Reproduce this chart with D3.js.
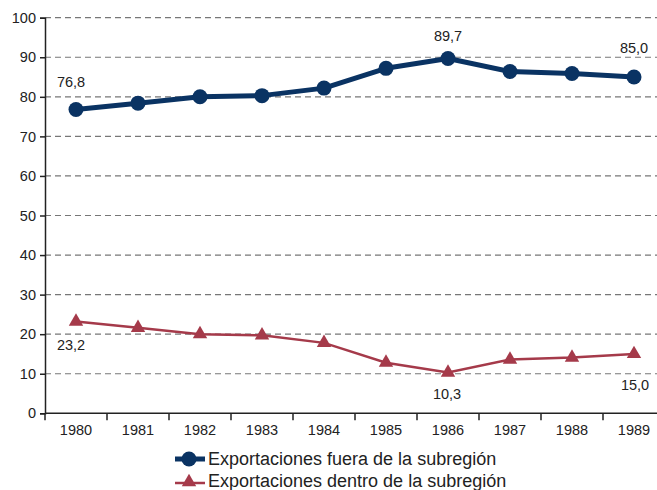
<!DOCTYPE html>
<html><head><meta charset="utf-8">
<script src="https://cdn.jsdelivr.net/npm/d3@7"></script>
<style>body{margin:0;background:#fff}svg{display:block}text{font-family:"Liberation Sans",Arial,sans-serif;fill:#222}</style>
</head><body><svg id="c" width="657" height="490"></svg>
<script>
const years = ["1980","1981","1982","1983","1984","1985","1986","1987","1988","1989"];
const fuera = [76.8,78.4,80.0,80.3,82.2,87.2,89.7,86.4,85.9,85.0];
const dentro = [23.2,21.6,20.0,19.7,17.8,12.8,10.3,13.6,14.1,15.0];
const yTicks = [0,10,20,30,40,50,60,70,80,90,100];
const seriesNames = ["Exportaciones fuera de la subregión","Exportaciones dentro de la subregión"];
const fueraLabels = {"1980":"76,8","1986":"89,7","1989":"85,0"};
const dentroLabels = {"1980":"23,2","1986":"10,3","1989":"15,0"};

const blue = "#0a3363", red = "#a53a4a";
const svg = d3.select("#c");
const x = d3.scaleBand().domain(years).range([45,665]);
const y = d3.scaleLinear().domain([0,100]).range([413.3,17.7]);
const cx = d => x(d) + x.bandwidth()/2;

// gridlines
svg.append("g").selectAll("line").data(yTicks.filter(t=>t>0)).join("line")
  .attr("x1",45).attr("x2",657).attr("y1",d=>y(d)).attr("y2",d=>y(d))
  .attr("stroke","#777").attr("stroke-width",1.2).attr("stroke-dasharray","6,4");

// y axis
const ya = svg.append("g").attr("transform","translate(45,0)")
  .call(d3.axisLeft(y).tickValues(yTicks).tickSize(5).tickPadding(4).tickFormat(d3.format("d")));
ya.select(".domain").attr("stroke","#222").attr("stroke-width",1.5);
ya.selectAll(".tick line").attr("stroke","#222").attr("stroke-width",1.5);
ya.selectAll("text").style("font-size","14.5px").attr("fill","#222");

// x axis
svg.append("line").attr("x1",45).attr("x2",657).attr("y1",y(0)).attr("y2",y(0)).attr("stroke","#222").attr("stroke-width",1.5);
svg.append("g").selectAll("line").data(years).join("line")
  .attr("x1",d=>x(d)).attr("x2",d=>x(d)).attr("y1",y(0)).attr("y2",y(0)+7)
  .attr("stroke","#222").attr("stroke-width",1.5);
svg.append("g").selectAll("text").data(years).join("text")
  .attr("x",cx).attr("y",y(0)+22).attr("text-anchor","middle").style("font-size","14.5px").text(d=>d);

// blue line
const line = vals => d3.line().x((d,i)=>cx(years[i])).y(d=>y(d))(vals);
svg.append("path").attr("d",line(fuera)).attr("fill","none").attr("stroke",blue).attr("stroke-width",5).attr("stroke-linejoin","round");
svg.append("g").selectAll("circle").data(fuera).join("circle")
  .attr("cx",(d,i)=>cx(years[i])).attr("cy",d=>y(d)).attr("r",7.5).attr("fill",blue);

// red line
svg.append("path").attr("d",line(dentro)).attr("fill","none").attr("stroke",red).attr("stroke-width",2.5);
const tri = d3.symbol().type(d3.symbolTriangle).size(90);
svg.append("g").selectAll("path").data(dentro).join("path")
  .attr("transform",(d,i)=>`translate(${cx(years[i])},${y(d)})`).attr("d",tri).attr("fill",red);

// data labels
const upOff = {"1980":[-5,22.5],"1986":[0,17],"1989":[0,24]};
const dnOff = {"1980":[-5,28],"1986":[-1,26],"1989":[1,36]};
svg.append("g").selectAll("text").data(years.filter(d=>fueraLabels[d])).join("text")
  .attr("x",d=>cx(d)+upOff[d][0]).attr("y",d=>y(fuera[years.indexOf(d)])-upOff[d][1])
  .attr("text-anchor","middle").style("font-size","14.5px").text(d=>fueraLabels[d]);
svg.append("g").selectAll("text").data(years.filter(d=>dentroLabels[d])).join("text")
  .attr("x",d=>cx(d)+dnOff[d][0]).attr("y",d=>y(dentro[years.indexOf(d)])+dnOff[d][1])
  .attr("text-anchor","middle").style("font-size","14.5px").text(d=>dentroLabels[d]);

// legend
const lg = svg.append("g");
lg.append("line").attr("x1",175).attr("x2",205).attr("y1",459).attr("y2",459).attr("stroke",blue).attr("stroke-width",5);
lg.append("circle").attr("cx",189).attr("cy",459).attr("r",7.5).attr("fill",blue);
lg.append("text").attr("x",208).attr("y",464.5).style("font-size","18px").text(seriesNames[0]);
lg.append("line").attr("x1",175).attr("x2",205).attr("y1",483).attr("y2",483).attr("stroke",red).attr("stroke-width",2.5);
lg.append("path").attr("transform","translate(189,482)").attr("d",tri).attr("fill",red);
lg.append("text").attr("x",208).attr("y",487).style("font-size","18px").text(seriesNames[1]);
</script></body></html>
